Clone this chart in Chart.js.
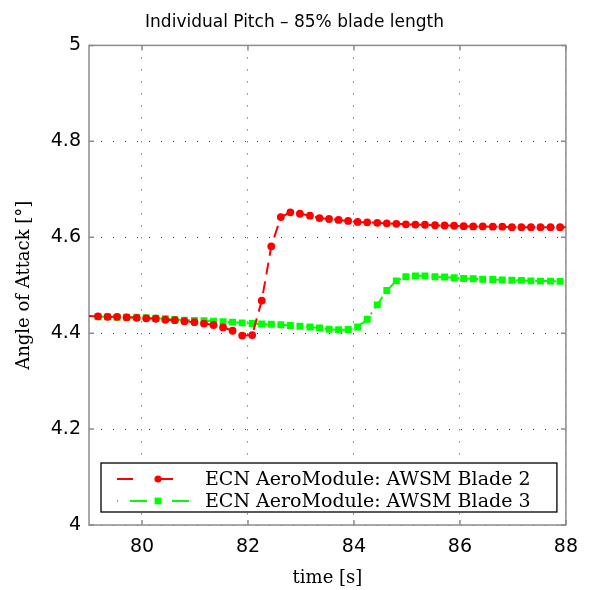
<!DOCTYPE html>
<html>
<head>
<meta charset="utf-8">
<script src="https://cdn.jsdelivr.net/npm/chart.js@4"></script>
<style>
  html, body { margin: 0; padding: 0; background: #fff; }
  #wrap { width: 589px; height: 590px; }
</style>
</head>
<body>
<div id="wrap"><canvas id="aoaChart"></canvas></div>
<script>
// time samples [s]
const times = [79.0, 79.17, 79.35, 79.53, 79.71, 79.90, 80.08, 80.26, 80.44, 80.62, 80.80,
  80.99, 81.17, 81.35, 81.53, 81.71, 81.89, 82.08, 82.26, 82.44, 82.62, 82.80,
  82.98, 83.17, 83.35, 83.53, 83.71, 83.89, 84.07, 84.25, 84.44, 84.62, 84.80,
  84.98, 85.16, 85.34, 85.53, 85.71, 85.89, 86.07, 86.25, 86.43, 86.62, 86.80,
  86.98, 87.16, 87.34, 87.52, 87.71, 87.89, 88.0];

// angle of attack [deg], blade 2
const blade2 = [4.436, 4.435, 4.434, 4.434, 4.433, 4.432, 4.431, 4.430, 4.428, 4.427, 4.425,
  4.423, 4.420, 4.417, 4.412, 4.405, 4.395, 4.396, 4.468, 4.581, 4.642, 4.652,
  4.649, 4.645, 4.640, 4.638, 4.636, 4.634, 4.632, 4.631, 4.630, 4.629, 4.628,
  4.627, 4.6265, 4.626, 4.625, 4.6245, 4.624, 4.623, 4.6225, 4.6225, 4.622, 4.622,
  4.621, 4.621, 4.621, 4.621, 4.621, 4.621, 4.621];

// angle of attack [deg], blade 3
const blade3 = [null, 4.434, 4.434, 4.433, 4.433, 4.433, 4.432, 4.431, 4.430, 4.4285, 4.427,
  4.4265, 4.426, 4.425, 4.424, 4.423, 4.4215, 4.420, 4.419, 4.4185, 4.4175, 4.416,
  4.4145, 4.413, 4.411, 4.408, 4.407, 4.4075, 4.413, 4.429, 4.459, 4.489, 4.509,
  4.5175, 4.5195, 4.5195, 4.5175, 4.517, 4.5155, 4.514, 4.5135, 4.5125, 4.512, 4.511,
  4.5105, 4.510, 4.509, 4.5085, 4.5085, 4.508, 4.508];

const xTicks = [80, 82, 84, 86, 88];
const yTicks = [4, 4.2, 4.4, 4.6, 4.8, 5];
const seriesLabels = ["ECN AeroModule: AWSM Blade 2", "ECN AeroModule: AWSM Blade 3"];

const RED = "#ff0000";
const GREEN = "#00ff00";
const FRAME = "#8c8c8c";
const SANS = "'DejaVu Sans', sans-serif";
const SERIF = "'DejaVu Serif', serif";

const toXY = (arr) => times.map((t, i) => ({ x: t, y: arr[i] }));
// no marker on the two edge samples
const markerSize = (r) => (ctx) =>
  ctx.dataIndex === 0 || ctx.dataIndex === times.length - 1 ? 0 : r;

const datasets = [
  {
    label: seriesLabels[0],
    data: toXY(blade2),
    borderColor: RED,
    backgroundColor: RED,
    borderWidth: 2,
    borderDash: [12, 7],
    pointStyle: "circle",
    pointRadius: markerSize(3.9),
    pointBorderWidth: 0,
  },
  {
    label: seriesLabels[1],
    data: toXY(blade3),
    borderColor: GREEN,
    backgroundColor: GREEN,
    borderWidth: 2,
    borderDash: [14, 5, 2, 5],
    pointStyle: "rect",
    pointRadius: markerSize(4.9),
    pointBorderWidth: 0,
  },
];

// frame + inward tick marks (like the matlab axes box)
const framePlugin = {
  id: "frame",
  beforeDatasetsDraw(chart) {
    const { ctx, chartArea: a, scales } = chart;
    ctx.save();
    ctx.strokeStyle = FRAME;
    ctx.lineWidth = 1.5;
    ctx.beginPath();
    xTicks.forEach((v) => {
      const px = scales.x.getPixelForValue(v);
      ctx.moveTo(px, a.bottom); ctx.lineTo(px, a.bottom - 5);
      ctx.moveTo(px, a.top); ctx.lineTo(px, a.top + 5);
    });
    yTicks.forEach((v) => {
      const py = scales.y.getPixelForValue(v);
      ctx.moveTo(a.left, py); ctx.lineTo(a.left + 5, py);
      ctx.moveTo(a.right, py); ctx.lineTo(a.right - 5, py);
    });
    ctx.stroke();
    ctx.strokeRect(a.left, a.top, a.right - a.left, a.bottom - a.top);
    ctx.restore();
  },
};

// boxed legend in the lower part of the axes
const legendBox = {
  id: "legendBox",
  afterDatasetsDraw(chart) {
    const { ctx, chartArea: a } = chart;
    const x0 = a.left + 12, x1 = a.right - 9;
    const y0 = a.bottom - 62, y1 = a.bottom - 13;
    ctx.save();
    ctx.fillStyle = "#fff";
    ctx.fillRect(x0, y0, x1 - x0, y1 - y0);
    ctx.strokeStyle = "#000";
    ctx.lineWidth = 1.3;
    ctx.strokeRect(x0, y0, x1 - x0, y1 - y0);

    const rows = [y0 + 16, y0 + 38];
    chart.data.datasets.forEach((ds, i) => {
      const y = rows[i];
      ctx.strokeStyle = ds.borderColor;
      ctx.lineWidth = 2;
      ctx.setLineDash(i === 0 ? [16, 24] : [1, 12, 17, 12]);
      ctx.beginPath();
      ctx.moveTo(x0 + 16, y);
      ctx.lineTo(x0 + 96, y);
      ctx.stroke();
      ctx.setLineDash([]);
      ctx.fillStyle = ds.backgroundColor;
      const mx = x0 + 57;
      if (i === 0) {
        ctx.beginPath();
        ctx.arc(mx, y, 3.6, 0, Math.PI * 2);
        ctx.fill();
      } else {
        ctx.fillRect(mx - 3.4, y - 3.4, 6.8, 6.8);
      }
      ctx.fillStyle = "#000";
      ctx.font = "19px " + SERIF;
      ctx.textBaseline = "middle";
      ctx.fillText(ds.label, x0 + 104, y + 1);
    });
    ctx.restore();
  },
};

new Chart(document.getElementById("aoaChart"), {
  type: "line",
  data: { datasets },
  plugins: [framePlugin, legendBox],
  options: {
    responsive: true,
    maintainAspectRatio: false,
    animation: false,
    layout: { padding: 0 },
    plugins: {
      legend: { display: false },
      tooltip: { enabled: false },
      title: {
        display: true,
        text: "Individual Pitch \u2013 85% blade length",
        color: "#000",
        font: { family: SANS, size: 17, weight: "normal" },
        padding: { top: 12, bottom: 13 },
      },
    },
    scales: {
      x: {
        type: "linear",
        min: 79,
        max: 88,
        afterBuildTicks: (s) => { s.ticks = xTicks.map((v) => ({ value: v })); },
        afterFit: (s) => { s.height = 65; },
        grid: { color: "#444", lineWidth: 1, drawTicks: false },
        border: { display: false, dash: [1, 11] },
        ticks: {
          color: "#000",
          padding: 11,
          maxRotation: 0,
          font: { family: SANS, size: 19 },
        },
        title: {
          display: true,
          text: "time [s]",
          color: "#000",
          font: { family: SERIF, size: 18 },
          padding: { top: 0, bottom: 1 },
        },
      },
      y: {
        type: "linear",
        min: 4,
        max: 5,
        afterBuildTicks: (s) => { s.ticks = yTicks.map((v) => ({ value: v })); },
        afterFit: (s) => { s.width = 89; },
        grid: { color: "#444", lineWidth: 1, drawTicks: false },
        border: { display: false, dash: [1, 11] },
        ticks: {
          color: "#000",
          padding: 8,
          font: { family: SANS, size: 19 },
          callback: (v) => String(v),
        },
        title: {
          display: true,
          text: "Angle of Attack [\u00b0]",
          color: "#000",
          font: { family: SERIF, size: 18 },
          padding: { top: 14, bottom: 0 },
        },
      },
      // empty right-hand axis, only keeps the 20px margin on the right
      yRight: {
        type: "linear",
        position: "right",
        min: 4,
        max: 5,
        afterFit: (s) => { s.width = 20; },
        grid: { display: false, drawTicks: false },
        border: { display: false },
        ticks: { display: false },
      },
    },
  },
});
</script>
</body>
</html>
